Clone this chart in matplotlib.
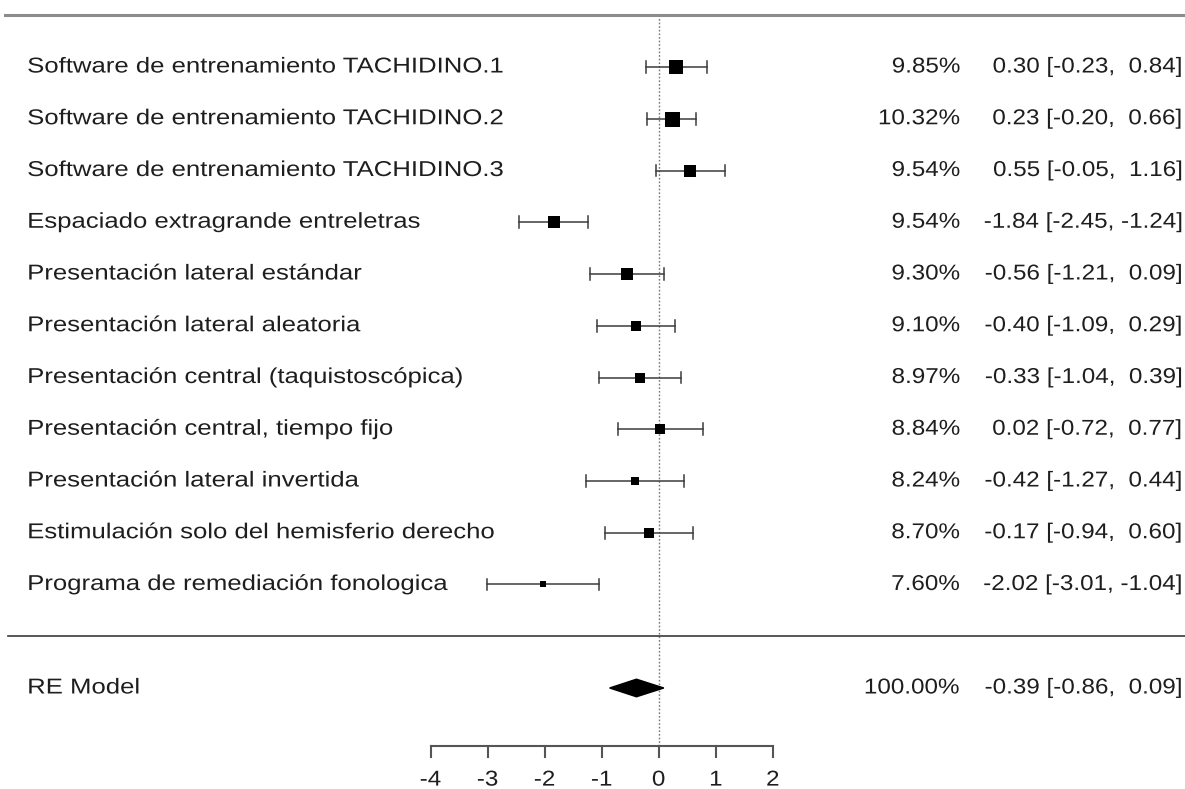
import numpy as np
import matplotlib.pyplot as plt
import matplotlib.patheffects as pe
from matplotlib.patches import Polygon
from matplotlib.transforms import Affine2D

# studies, listed from top to bottom
studies = [
    "Software de entrenamiento TACHIDINO.1",
    "Software de entrenamiento TACHIDINO.2",
    "Software de entrenamiento TACHIDINO.3",
    "Espaciado extragrande entreletras",
    "Presentación lateral estándar",
    "Presentación lateral aleatoria",
    "Presentación central (taquistoscópica)",
    "Presentación central, tiempo fijo",
    "Presentación lateral invertida",
    "Estimulación solo del hemisferio derecho",
    "Programa de remediación fonologica",
]
weights = [9.85, 10.32, 9.54, 9.54, 9.30, 9.10, 8.97, 8.84, 8.24, 8.70, 7.60]
est = [0.30, 0.23, 0.55, -1.84, -0.56, -0.40, -0.33, 0.02, -0.42, -0.17, -2.02]
ci_lo = [-0.23, -0.20, -0.05, -2.45, -1.21, -1.09, -1.04, -0.72, -1.27, -0.94, -3.01]
ci_hi = [0.84, 0.66, 1.16, -1.24, 0.09, 0.29, 0.39, 0.77, 0.44, 0.60, -1.04]

# pooled random-effects estimate
re_label = "RE Model"
re_weight = 100.00
re_est, re_lo, re_hi = -0.39, -0.86, 0.09

xticks = [-4, -3, -2, -1, 0, 1, 2]

FONT = "Liberation Sans"
FS = 15.5
WIDE_LABEL = 1.195
WIDE_NUM = 1.125
TXT = "#1e1e1e"


class Widen(pe.AbstractPathEffect):
    """Stretch glyphs horizontally about the text anchor."""

    def __init__(self, ax, x, factor):
        super().__init__()
        self.ax, self.x, self.factor = ax, x, factor

    def draw_path(self, renderer, gc, tpath, affine, rgbFace=None):
        x0 = self.ax.transData.transform((self.x, 0))[0]
        stretch = Affine2D().translate(-x0, 0).scale(self.factor, 1).translate(x0, 0)
        renderer.draw_path(gc, tpath, affine + stretch, rgbFace)


def put(ax, x, y, s, ha, factor):
    ax.text(x, y, s, ha=ha, va="center", fontsize=FS, family=FONT, color=TXT,
            path_effects=[Widen(ax, x, factor)])


fig = plt.figure(figsize=(11.85, 7.89), dpi=100)
ax = fig.add_axes([0, 0, 1, 1])
ax.set_xlim(-11.546, 9.225)
ax.set_ylim(-2.952, 12.295)
ax.axis("off")

k = len(studies)
rows = np.arange(k, 0, -1)

# square size follows the study weight
w = np.array(weights)
psize = 6 + 9 * (w - w.min()) / (w.max() - w.min())

x_label = -11.07
x_weight = 5.28
x_value = 9.19

# horizontal rules
ax.axhline(k + 1, color="#8c8c8c", lw=2.2, xmin=0.004)
ax.axhline(0, color="#3a3a3a", lw=1.2, xmin=0.007)

# reference line at zero
ax.plot([0, 0], [-2.12, k + 1], color="#777777", lw=1.0, ls=(0, (1.2, 1.4)), zorder=1)

cap = 0.115
for r, lab, wt, e, lo, hi, ps in zip(rows, studies, weights, est, ci_lo, ci_hi, psize):
    ax.plot([lo, hi], [r, r], color="#3c3c3c", lw=1.1, zorder=2)
    ax.plot([lo, lo], [r - cap, r + cap], color="#3c3c3c", lw=1.1, zorder=2)
    ax.plot([hi, hi], [r - cap, r + cap], color="#3c3c3c", lw=1.1, zorder=2)
    ax.plot(e, r, marker="s", ms=ps * 0.72, color="black", mec="black", mew=0, zorder=3)
    put(ax, x_label, r, lab, "left", WIDE_LABEL)
    put(ax, x_weight, r, f"{wt:.2f}%", "right", WIDE_NUM)
    put(ax, x_value, r, f"{e:.2f} [{lo:.2f}, {hi:5.2f}]", "right", WIDE_NUM)

# summary diamond
yr = -1
dh = 0.17
ax.add_patch(Polygon([[re_lo, yr], [re_est, yr + dh], [re_hi, yr], [re_est, yr - dh]],
                     closed=True, color="black", zorder=3))
put(ax, x_label, yr, re_label, "left", WIDE_LABEL)
put(ax, x_weight, yr, f"{re_weight:.2f}%", "right", WIDE_NUM)
put(ax, x_value, yr, f"{re_est:.2f} [{re_lo:.2f}, {re_hi:5.2f}]", "right", WIDE_NUM)

# x axis drawn inside the panel
y_axis = -2.12
ax.plot([xticks[0], xticks[-1]], [y_axis, y_axis], color="#555555", lw=1.5)
for t in xticks:
    ax.plot([t, t], [y_axis, y_axis - 0.21], color="#555555", lw=1.5)
    put(ax, t, y_axis - 0.66, f"{t}", "center", WIDE_NUM)

fig.savefig("out.png", dpi=100)
